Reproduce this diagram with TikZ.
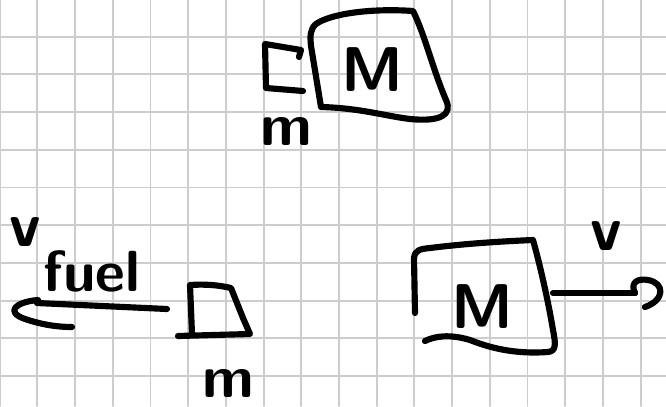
\documentclass[tikz,border=0pt]{standalone}
\definecolor{gridline}{RGB}{205,205,205}
\begin{document}
\begin{tikzpicture}[x=0.02cm, y=-0.02cm, line cap=round, line join=round]
        \tikzstyle{sketch}=[draw=black, line width=3.5pt]
        \tikzstyle{paper}=[draw=gridline, line width=1.1pt]
        \tikzstyle{bigletter}=[font=\sffamily\bfseries\fontsize{36}{36}\selectfont, inner sep=0pt]
        \tikzstyle{smallletter}=[font=\sffamily\bfseries\fontsize{34}{34}\selectfont, inner sep=0pt]
        \tikzstyle{subletter}=[font=\sffamily\bfseries\fontsize{33}{33}\selectfont, inner sep=0pt]

        \useasboundingbox (0,0) rectangle (666,406);
        \fill[white] (0,0) rectangle (666,406);
        \foreach \x in {0,...,17} \draw[paper] ({-0.3+37.7*\x},0) -- ({-0.3+37.7*\x},406);
        \foreach \y in {0,...,10} \draw[paper] (0,{-1+37.7*\y}) -- (666,{-1+37.7*\y});

        % before: big mass with small piece attached
        \draw[sketch] (321,107) .. controls (360,108) and (385,116) .. (410,119)
            .. controls (440,122) and (453,115) .. (446,100)
            .. controls (433,70) and (425,35) .. (413,11)
            .. controls (370,8) and (330,14) .. (316,24)
            .. controls (310,29) and (310,36) .. (311,46) -- (321,107);
        \draw[sketch] (299,57) -- (301,50) -- (265,44) -- (266,88) -- (303,91);
        \node[bigletter] (massA) at (372,70) {M};
        \node[smallletter] (mA) at (286,131) {m};

        % after: fuel thrown left
        \draw[sketch] (178,336) -- (250,334) -- (243,318) -- (231,288)
            .. controls (218,285) and (205,284) .. (190,285) -- (192,334);
        \node[smallletter] (mB) at (228,383) {m};
        \coordinate (fueltail) at (167,309);
        \coordinate (fuelhead) at (37,303);
        \draw[sketch] (fueltail) -- (fuelhead);
        \draw[sketch] (38,300) .. controls (15,302) and (5,312) .. (25,319)
            .. controls (40,324) and (55,327) .. (72,327);
        \node[bigletter] (vfuel) at (25,232) {v};
        \node[subletter] (fuel) at (92,271) {fuel};

        % after: mass moving right
        \draw[sketch] (415,313) -- (414,258) .. controls (415,250) and (420,249) .. (430,248)
            .. controls (470,243) and (510,241) .. (533,240)
            .. controls (540,265) and (548,300) .. (553,330)
            .. controls (556,345) and (556,351) .. (548,352)
            .. controls (520,354) and (495,350) .. (470,340)
            .. controls (450,334) and (435,336) .. (425,341);
        \node[bigletter] (massB) at (482,307) {M};
        \coordinate (shiptail) at (553,293);
        \coordinate (shiphead) at (635,293);
        \draw[sketch] (shiptail) -- (shiphead);
        \draw[sketch] (shiphead) .. controls (630,283) and (637,278) .. (648,280)
            .. controls (665,283) and (665,300) .. (645,307);
        \node[bigletter] (vship) at (606,236) {v};
    \end{tikzpicture}
\end{document}
